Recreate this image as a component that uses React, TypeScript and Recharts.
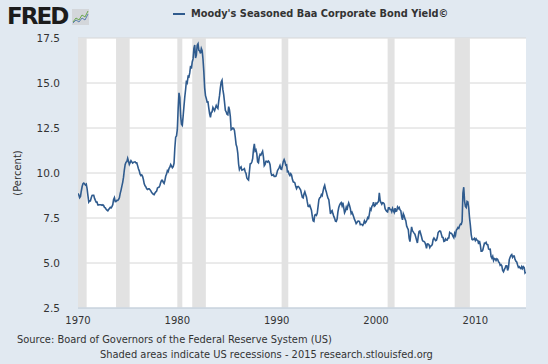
import React from 'react';
import { LineChart, Line, XAxis, YAxis, CartesianGrid, ReferenceArea } from 'recharts';

const startYear = 1970;

const yields1970s = [
  8.86, 8.78, 8.63, 8.70, 9.00, 9.25, 9.40, 9.44, 9.39, 9.33, 9.38, 9.12,
  8.74, 8.39, 8.46, 8.45, 8.62, 8.75, 8.76, 8.76, 8.59, 8.48, 8.38, 8.38,
  8.23, 8.23, 8.24, 8.24, 8.23, 8.20, 8.23, 8.19, 8.09, 8.06, 7.99, 7.93,
  7.90, 7.97, 8.03, 8.09, 8.06, 8.13, 8.24, 8.53, 8.63, 8.41, 8.42, 8.48,
  8.48, 8.53, 8.62, 8.87, 9.05, 9.27, 9.48, 9.77, 10.18, 10.48, 10.60, 10.63,
  10.81, 10.65, 10.48, 10.58, 10.69, 10.62, 10.55, 10.59, 10.61, 10.62, 10.56, 10.56,
  10.41, 10.24, 10.12, 9.94, 9.86, 9.89, 9.82, 9.64, 9.40, 9.29, 9.23, 9.12,
  9.08, 9.12, 9.12, 9.07, 9.01, 8.91, 8.87, 8.82, 8.80, 8.89, 8.95, 8.99,
  9.17, 9.20, 9.22, 9.32, 9.49, 9.60, 9.60, 9.48, 9.42, 9.59, 9.83, 9.94,
  10.13, 10.08, 10.26, 10.33, 10.47, 10.38, 10.29, 10.35, 10.54, 11.40, 11.99, 12.06,
];

const yields1980s = [
  12.42, 13.57, 14.45, 14.19, 13.17, 12.71, 12.65, 13.15, 13.70, 14.23, 14.64, 15.14,
  15.03, 15.37, 15.34, 15.56, 15.95, 15.80, 16.17, 16.34, 16.92, 17.11, 16.39, 16.55,
  17.10, 17.18, 16.82, 16.78, 16.64, 16.92, 16.80, 16.32, 15.63, 14.73, 14.30, 14.14,
  13.94, 13.95, 13.61, 13.29, 13.09, 13.37, 13.39, 13.64, 13.55, 13.46, 13.61, 13.75,
  13.65, 13.59, 13.99, 14.31, 14.74, 15.05, 15.15, 14.63, 14.35, 13.94, 13.48, 13.40,
  13.26, 13.23, 13.69, 13.51, 13.15, 12.40, 12.43, 12.50, 12.48, 12.36, 11.99, 11.58,
  11.44, 11.11, 10.50, 10.19, 10.29, 10.34, 10.16, 10.18, 10.20, 10.24, 10.07, 9.97,
  9.72, 9.65, 9.61, 10.04, 10.51, 10.52, 10.61, 10.80, 11.31, 11.62, 11.23, 11.29,
  11.07, 10.62, 10.57, 10.90, 11.04, 11.00, 11.11, 11.21, 10.90, 10.41, 10.48, 10.65,
  10.65, 10.61, 10.67, 10.61, 10.46, 10.03, 9.87, 9.88, 9.91, 9.81, 9.81, 9.82,
];

const yields1990s = [
  9.94, 10.14, 10.21, 10.30, 10.41, 10.22, 10.20, 10.41, 10.64, 10.74, 10.62, 10.43,
  10.45, 10.07, 10.09, 9.94, 9.86, 9.96, 9.89, 9.65, 9.51, 9.49, 9.45, 9.26,
  9.13, 9.23, 9.25, 9.21, 9.13, 9.05, 8.84, 8.65, 8.62, 8.84, 8.96, 8.81,
  8.67, 8.39, 8.15, 8.14, 8.21, 8.07, 7.93, 7.60, 7.34, 7.31, 7.66, 7.69,
  7.65, 7.76, 8.13, 8.52, 8.62, 8.65, 8.80, 8.74, 8.98, 9.20, 9.32, 9.10,
  8.95, 8.76, 8.60, 8.52, 8.13, 7.73, 7.86, 7.91, 7.73, 7.59, 7.48, 7.33,
  7.31, 7.44, 7.84, 8.08, 8.22, 8.30, 8.35, 8.18, 8.35, 8.07, 7.79, 7.89,
  8.09, 7.94, 8.18, 8.34, 8.20, 8.02, 7.75, 7.82, 7.70, 7.57, 7.42, 7.32,
  7.19, 7.25, 7.32, 7.33, 7.30, 7.13, 7.15, 7.14, 7.09, 7.18, 7.34, 7.23,
  7.29, 7.39, 7.53, 7.48, 7.72, 8.02, 7.95, 8.15, 8.20, 8.38, 8.15, 8.19,
];

const yields2000s = [
  8.33, 8.29, 8.37, 8.40, 8.90, 8.48, 8.35, 8.26, 8.35, 8.34, 8.28, 8.02,
  7.93, 7.87, 7.84, 8.07, 8.07, 7.97, 7.97, 7.85, 8.03, 7.91, 7.81, 8.05,
  7.87, 7.89, 8.11, 8.03, 8.09, 7.95, 7.90, 7.58, 7.40, 7.73, 7.62, 7.45,
  7.35, 7.06, 6.95, 6.85, 6.38, 6.19, 6.62, 7.01, 6.79, 6.73, 6.66, 6.60,
  6.44, 6.27, 6.11, 6.46, 6.75, 6.78, 6.62, 6.46, 6.27, 6.21, 6.20, 6.15,
  6.02, 5.82, 6.06, 6.05, 6.01, 5.86, 5.95, 5.96, 6.03, 6.30, 6.39, 6.32,
  6.24, 6.27, 6.41, 6.68, 6.75, 6.78, 6.76, 6.59, 6.43, 6.42, 6.20, 6.22,
  6.34, 6.28, 6.27, 6.39, 6.39, 6.70, 6.65, 6.65, 6.59, 6.48, 6.40, 6.65,
  6.54, 6.82, 6.89, 6.97, 6.93, 7.07, 7.16, 7.15, 7.31, 8.88, 9.21, 8.43,
  8.14, 8.08, 8.42, 8.39, 8.06, 7.50, 7.09, 6.58, 6.31, 6.29, 6.32, 6.37,
];

const yields2010s = [
  6.25, 6.34, 6.27, 6.25, 6.05, 6.23, 6.01, 5.66, 5.66, 5.72, 5.92, 6.10,
  6.09, 6.15, 6.03, 6.02, 5.78, 5.75, 5.76, 5.36, 5.27, 5.37, 5.14, 5.25,
  5.23, 5.14, 5.23, 5.19, 5.07, 5.02, 4.87, 4.91, 4.84, 4.58, 4.51, 4.63,
  4.73, 4.85, 4.85, 4.59, 4.73, 5.19, 5.32, 5.42, 5.47, 5.31, 5.38, 5.38,
  5.19, 5.10, 5.06, 4.90, 4.76, 4.80, 4.73, 4.69, 4.80, 4.69, 4.79, 4.74,
  4.45, 4.51,
];

const recessionStarts = [1970.0, 1973.83, 1980.0, 1981.5, 1990.5, 2001.17, 2007.92];
const recessionEnds = [1970.87, 1975.2, 1980.5, 1982.87, 1991.17, 2001.87, 2009.45];

const xTicks = [1970, 1980, 1990, 2000, 2010];
const yTicks = [2.5, 5.0, 7.5, 10.0, 12.5, 15.0, 17.5];

const allYields = [...yields1970s, ...yields1980s, ...yields1990s, ...yields2000s, ...yields2010s];
const data = allYields.map((v, i) => ({ t: startYear + i / 12, value: v }));

const FONT = '"DejaVu Sans", Verdana, sans-serif';
const LINE = '#2f5b8e';

export default function App() {
  return (
    <div
      style={{
        position: 'absolute',
        left: 0,
        top: 0,
        width: 548,
        height: 364,
        background: '#e1e9f1',
        fontFamily: FONT,
        overflow: 'hidden',
      }}
    >
      <div
        style={{
          position: 'absolute',
          left: 7,
          top: 2,
          fontSize: 23,
          fontWeight: 900,
          letterSpacing: -2,
          color: '#1c1c1c',
          lineHeight: '28px',
        }}
      >
        FRED
      </div>
      <svg style={{ position: 'absolute', left: 72, top: 9 }} width={17} height={16}>
        <rect x={0} y={0} width={17} height={16} fill="#d3d6da" />
        <polyline points="1,13 4,9 7,11 10,6 13,8 16,2" fill="none" stroke="#6aa84f" strokeWidth={1} />
        <polyline points="1,14 4,11 7,13 10,9 13,11 16,5" fill="none" stroke="#5b7fb0" strokeWidth={1} />
      </svg>
      <div
        style={{
          position: 'absolute',
          left: 173,
          top: 8,
          fontSize: 9.8,
          fontWeight: 'bold',
          color: '#333',
          whiteSpace: 'nowrap',
          display: 'flex',
          alignItems: 'center',
        }}
      >
        <span style={{ display: 'inline-block', width: 12, height: 2, background: LINE, marginRight: 6 }} />
        <span>Moody's Seasoned Baa Corporate Bond Yield©</span>
      </div>
      <div
        style={{
          position: 'absolute',
          left: 17,
          top: 173,
          fontSize: 10,
          color: '#333',
          whiteSpace: 'nowrap',
          transform: 'translate(-50%, -50%) rotate(-90deg)',
        }}
      >
        (Percent)
      </div>
      <div style={{ position: 'absolute', left: 0, top: 0 }}>
        <LineChart width={548} height={364} data={data} margin={{ top: 38, right: 22, bottom: 36, left: 0 }}>
          <CartesianGrid horizontal vertical={false} stroke="#d6d6d6" fill="#ffffff" fillOpacity={1} />
          {recessionStarts.map((s, i) => (
            <ReferenceArea
              key={i}
              x1={s}
              x2={recessionEnds[i]}
              fill="#e2e2e2"
              fillOpacity={1}
              stroke="none"
              ifOverflow="hidden"
            />
          ))}
          <XAxis
            dataKey="t"
            type="number"
            domain={[1970, 2015.1]}
            ticks={xTicks}
            allowDataOverflow
            height={20}
            tickLine={false}
            tickSize={0}
            tickMargin={9}
            axisLine={{ stroke: '#c0d0e0' }}
            tick={{ fontSize: 10, fill: '#333', fontFamily: FONT }}
          />
          <YAxis
            type="number"
            domain={[2.5, 17.5]}
            ticks={yTicks}
            width={78}
            axisLine={false}
            tickLine={false}
            tickSize={0}
            tickMargin={18}
            tickFormatter={(v: number) => v.toFixed(1)}
            tick={{ fontSize: 10.5, fill: '#333', fontFamily: FONT }}
          />
          <Line
            type="linear"
            dataKey="value"
            stroke={LINE}
            strokeWidth={1.6}
            dot={false}
            isAnimationActive={false}
          />
        </LineChart>
      </div>
      <div
        style={{
          position: 'absolute',
          left: 17,
          top: 334,
          fontSize: 9.9,
          color: '#333',
          whiteSpace: 'nowrap',
        }}
      >
        Source: Board of Governors of the Federal Reserve System (US)
      </div>
      <div
        style={{
          position: 'absolute',
          left: 100,
          top: 349,
          fontSize: 9.9,
          color: '#333',
          whiteSpace: 'nowrap',
        }}
      >
        Shaded areas indicate US recessions - 2015 research.stlouisfed.org
      </div>
    </div>
  );
}
